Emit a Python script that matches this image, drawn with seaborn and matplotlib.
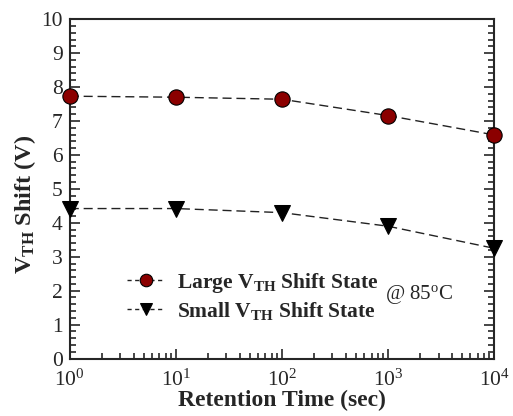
import matplotlib
matplotlib.use("Agg")
import matplotlib.pyplot as plt
import seaborn as sns
import pandas as pd
from matplotlib.ticker import MultipleLocator, LogLocator

# data
retention_time = [1, 10, 100, 1000, 10000]
large_shift = [7.73, 7.70, 7.64, 7.16, 6.59]
small_shift = [4.42, 4.42, 4.30, 3.90, 3.25]
labels = [r"Large $\mathbf{V_{TH}}$ Shift State", r"Small $\mathbf{V_{TH}}$ Shift State"]

sns.set_style("ticks")
plt.rcParams["font.family"] = ["Liberation Serif", "DejaVu Serif"]
plt.rcParams["mathtext.fontset"] = "custom"
plt.rcParams["mathtext.rm"] = "Liberation Serif"
plt.rcParams["mathtext.it"] = "Liberation Serif:italic"
plt.rcParams["mathtext.bf"] = "Liberation Serif:bold"

df_large = pd.DataFrame({"t": retention_time, "v": large_shift})
df_small = pd.DataFrame({"t": retention_time, "v": small_shift})

fig = plt.figure(figsize=(5.13, 4.16), dpi=100)
ax = fig.add_axes([0.136, 0.138, 0.827, 0.816])

line_kw = dict(color="#222222", linewidth=1.0, dashes=(6.5, 3.5), markeredgecolor="black",
               clip_on=False, zorder=3)
sns.lineplot(data=df_large, x="t", y="v", ax=ax, marker="o", markersize=11,
             markerfacecolor="#8B0000", markeredgewidth=0.8, label=labels[0], **line_kw)
sns.lineplot(data=df_small, x="t", y="v", ax=ax, marker="v", markersize=11,
             markerfacecolor="black", label=labels[1], **line_kw)

ax.set_xscale("log")
ax.set_xlim(1, 1e4)
ax.set_ylim(0, 10)
ax.yaxis.set_major_locator(MultipleLocator(1))
ax.yaxis.set_minor_locator(MultipleLocator(0.2))
ax.xaxis.set_major_locator(LogLocator(base=10))
ax.xaxis.set_minor_locator(LogLocator(base=10, subs=range(2, 10)))

ax.tick_params(which="both", direction="in", top=False, right=True, labelsize=15.5, width=1.2)
ax.tick_params(which="major", length=7.5)
ax.tick_params(which="minor", length=4)
ax.tick_params(axis="x", pad=8)
ax.tick_params(axis="y", pad=5)
for s in ax.spines.values():
    s.set_linewidth(1.5)

ax.set_xlabel("Retention Time (sec)", fontsize=17, fontweight="bold", labelpad=-1)
ax.set_ylabel(r"$\mathbf{V_{TH}}$ Shift (V)", fontsize=17.5, fontweight="bold")
ax.yaxis.set_label_coords(-0.075, 0.455)

leg = ax.legend(loc="lower left", bbox_to_anchor=(0.09, 0.052), frameon=False,
                prop={"weight": "bold", "size": 15.5}, handlelength=1.75,
                handletextpad=0.55, labelspacing=0.22)
for h in leg.legend_handles:
    h.set_linestyle((0, (3, 2.5)))
    h.set_markersize(9)

ax.text(0.743, 0.188, r"@ 85$^{\rm o}$C", transform=ax.transAxes, fontsize=15, va="center")

fig.savefig("out.png", dpi=100)
